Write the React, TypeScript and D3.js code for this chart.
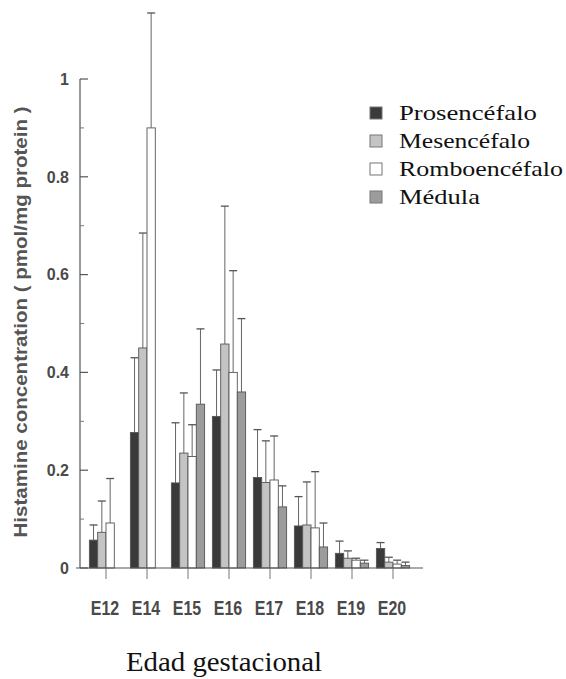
import React from "react";
import * as d3 from "d3";

const width = 566;
const height = 679;

// gestational ages
const categories = ["E12", "E14", "E15", "E16", "E17", "E18", "E19", "E20"];
const regions = ["Prosencéfalo", "Mesencéfalo", "Romboencéfalo", "Médula"];

// mean histamine (pmol/mg protein)
const prosencefalo = [0.057, 0.277, 0.174, 0.31, 0.185, 0.086, 0.03, 0.04];
const mesencefalo = [0.073, 0.45, 0.235, 0.458, 0.175, 0.088, 0.02, 0.012];
const romboencefalo = [0.092, 0.9, 0.228, 0.4, 0.18, 0.082, 0.016, 0.008];
const medula = [null, null, 0.335, 0.36, 0.125, 0.043, 0.01, 0.005];

// upper error (added to the mean)
const prosencefaloErr = [0.031, 0.153, 0.123, 0.095, 0.098, 0.06, 0.025, 0.012];
const mesencefaloErr = [0.064, 0.235, 0.123, 0.282, 0.085, 0.088, 0.015, 0.01];
const romboencefaloErr = [0.091, 0.235, 0.065, 0.208, 0.09, 0.115, 0.004, 0.008];
const medulaErr = [null, null, 0.154, 0.15, 0.043, 0.049, 0.006, 0.007];

const yTicks = [0, 0.2, 0.4, 0.6, 0.8, 1];
const yMinorTicks = [0.1, 0.3, 0.5, 0.7, 0.9];

const series = [
  { name: regions[0], values: prosencefalo, err: prosencefaloErr, fill: "#3a3a3a" },
  { name: regions[1], values: mesencefalo, err: mesencefaloErr, fill: "#c4c4c4" },
  { name: regions[2], values: romboencefalo, err: romboencefaloErr, fill: "#ffffff" },
  { name: regions[3], values: medula, err: medulaErr, fill: "#9c9c9c" },
];

const legendWidths = [138, 131, 164, 81];

export default function App() {
  const y = d3.scaleLinear().domain([0, 1]).range([568, 79]);
  const x0 = d3
    .scaleBand()
    .domain(categories)
    .range([85.5, 413.5])
    .paddingInner(0.19)
    .paddingOuter(0.095);
  const x1 = d3
    .scaleBand()
    .domain(regions)
    .range([0, x0.bandwidth()]);

  const axisX = 80;
  const baseY = y(0);

  return (
    <div style={{ position: "absolute", left: 0, top: 0 }}>
      <svg width={width} height={height} style={{ display: "block", background: "#fff" }}>
        {/* y axis */}
        <line x1={axisX} x2={axisX} y1={y(1)} y2={baseY} stroke="#555" strokeWidth={1.2} />
        {yTicks.map((t) => (
          <g key={t}>
            <line x1={axisX} x2={axisX + 8} y1={y(t)} y2={y(t)} stroke="#555" strokeWidth={1.2} />
            <text
              x={axisX - 11}
              y={y(t)}
              dy="0.36em"
              textAnchor="end"
              fontFamily="Liberation Sans, Arial, sans-serif"
              fontWeight="bold"
              fontSize={16}
              fill="#4a4a4a"
            >
              {d3.format("~g")(t)}
            </text>
          </g>
        ))}
        {yMinorTicks.map((t) => (
          <line key={t} x1={axisX} x2={axisX + 4} y1={y(t)} y2={y(t)} stroke="#777" strokeWidth={1} />
        ))}
        <text
          transform={`translate(21,${322}) rotate(-90)`}
          textAnchor="middle"
          dy="0.35em"
          fontFamily="Liberation Sans, Arial, sans-serif"
          fontWeight="bold"
          fontSize={18}
          fill="#555"
          textLength={431}
          lengthAdjust="spacingAndGlyphs"
        >
          Histamine concentration ( pmol/mg protein )
        </text>

        {/* bars */}
        {categories.map((c, i) => (
          <g key={c} transform={`translate(${x0(c)},0)`}>
            {series.map((s) => {
              const v = s.values[i];
              const e = s.err[i];
              if (v === null || e === null) return null;
              const bx = x1(s.name)!;
              const bw = x1.bandwidth();
              const cx = bx + bw / 2;
              return (
                <g key={s.name}>
                  <line x1={cx} x2={cx} y1={y(v)} y2={y(v + e)} stroke="#666" strokeWidth={1} />
                  <line x1={cx - 4} x2={cx + 4} y1={y(v + e)} y2={y(v + e)} stroke="#555" strokeWidth={1.3} />
                  <rect
                    x={bx}
                    y={y(v)}
                    width={bw}
                    height={baseY - y(v)}
                    fill={s.fill}
                    stroke="#555"
                    strokeWidth={0.9}
                  />
                </g>
              );
            })}
          </g>
        ))}

        {/* x axis */}
        <line x1={axisX - 4} x2={423} y1={baseY} y2={baseY} stroke="#555" strokeWidth={1.2} />
        {categories.map((c) => {
          const cx = x0(c)! + x0.bandwidth() / 2;
          return (
            <g key={c}>
              <line x1={cx} x2={cx} y1={baseY} y2={baseY + 11} stroke="#777" strokeWidth={1} />
              <text
                transform={`translate(${cx - 1},615) scale(1,1.3)`}
                textAnchor="middle"
                fontFamily="Liberation Sans, Arial, sans-serif"
                fontWeight="bold"
                fontSize={16}
                fill="#4a4a4a"
              >
                {c}
              </text>
            </g>
          );
        })}

        <text
          x={224}
          y={671}
          textAnchor="middle"
          fontFamily="Liberation Serif, Times New Roman, serif"
          fontSize={28}
          fill="#111"
          textLength={196}
          lengthAdjust="spacingAndGlyphs"
        >
          Edad gestacional
        </text>

        {/* legend */}
        {series.map((s, i) => {
          const cy = 113 + i * 28;
          return (
            <g key={s.name}>
              <rect x={370} y={cy - 6} width={12} height={12} fill={s.fill} stroke="#777" strokeWidth={1} />
              <text
                x={399}
                y={cy}
                dy="0.35em"
                fontFamily="Liberation Serif, Times New Roman, serif"
                fontSize={21}
                fill="#111"
                textLength={legendWidths[i]}
                lengthAdjust="spacingAndGlyphs"
              >
                {s.name}
              </text>
            </g>
          );
        })}
      </svg>
    </div>
  );
}
